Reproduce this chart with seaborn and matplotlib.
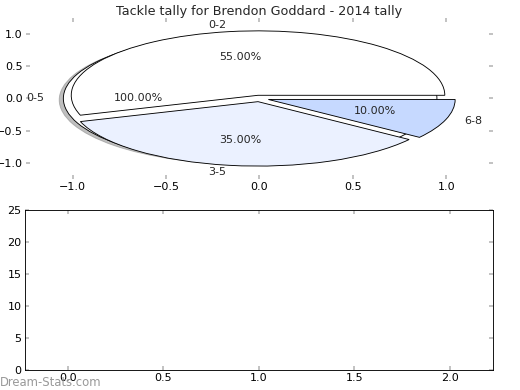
import matplotlib
matplotlib.use("Agg")
import matplotlib.pyplot as plt
import seaborn as sns

# tackle counts per band
inner_labels = ["0-2", "3-5", "6-8"]
inner_values = [11, 7, 2]
inner_colors = ["#ffffff", "#ebf1ff", "#c6d9ff"]
outer_labels = ["0-5"]
outer_values = [20]
outer_colors = ["#ffffff"]
pie_ticks = [-1.0, -0.5, 0.0, 0.5, 1.0]
bar_ticks = [0.0, 0.5, 1.0, 1.5, 2.0]

sns.set_style("white", {"xtick.direction": "in", "ytick.direction": "in",
                        "axes.edgecolor": "black"})
plt.rcParams["font.family"] = ["DejaVu Sans"]
plt.rcParams["font.size"] = 10

fig = plt.figure(figsize=(6.5, 4.875), dpi=80)
ax1 = fig.add_axes([0.05, 0.541, 0.898, 0.413])
ax2 = fig.add_axes([0.048, 0.051, 0.9, 0.41])

wedge_style = {"edgecolor": "black", "linewidth": 0.8}
shadow_style = {"ox": -0.02, "oy": -0.02, "shade": 0.5}
ax1.pie(outer_values, labels=outer_labels, colors=outer_colors, explode=[0.05],
        autopct="%1.2f%%", shadow=shadow_style, wedgeprops=wedge_style,
        textprops={"fontsize": 10})
ax1.pie(inner_values, labels=inner_labels, colors=inner_colors,
        explode=[0.05, 0.05, 0.05], autopct="%1.2f%%", shadow=False,
        wedgeprops=wedge_style, textprops={"fontsize": 10})
ax1.set_aspect("auto")
ax1.set_xlim(-1.25, 1.25)
ax1.set_ylim(-1.25, 1.25)
ax1.set_xticks(pie_ticks)
ax1.set_yticks(pie_ticks)
sns.despine(ax=ax1, left=True, bottom=True)
ax1.set_title("Tackle tally for Brendon Goddard - 2014 tally", fontsize=11.5, pad=3)

ax2.set_xlim(-0.225, 2.225)
ax2.set_ylim(0, 25)
ax2.set_xticks(bar_ticks)
ax2.set_yticks(range(0, 26, 5))

for ax in (ax1, ax2):
    ax.tick_params(which="both", direction="in", length=4, width=1.5,
                   color="#b8b8b8", labelcolor="black", labelsize=10,
                   top=True, right=True, bottom=True, left=True, pad=3)

fig.text(0.0, 0.01, "Dream-Stats.com", color="#999999", fontsize=10.5)

fig.savefig("out.png", dpi=80)
